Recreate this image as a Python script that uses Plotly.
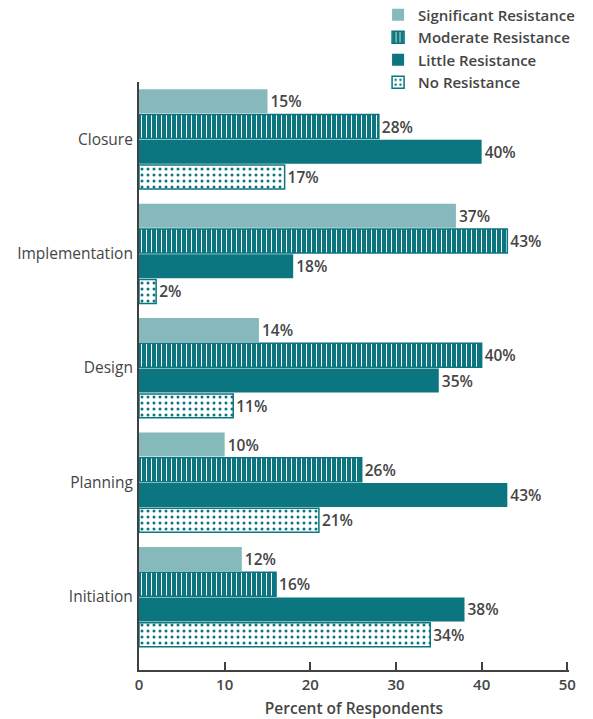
import plotly.graph_objects as go

# Project phases, bottom to top on the y axis
phases = ["Initiation", "Planning", "Design", "Implementation", "Closure"]

# Percent of respondents per resistance level, in the same phase order
significant = [12, 10, 14, 37, 15]
moderate = [16, 26, 40, 43, 28]
little = [38, 43, 35, 18, 40]
no_resistance = [34, 21, 11, 2, 17]

x_ticks = [0, 10, 20, 30, 40, 50]

LIGHT = "#85b9bc"
DARK = "#0b7580"
TEXT = "#454545"
FONT = "Open Sans"

label_font = dict(family=FONT, size=15.5, color=TEXT, weight=600)

fig = go.Figure()

# Traces are added bottom-up so that each group reads
# Significant, Moderate, Little, No from top to bottom.
fig.add_trace(go.Bar(
    name="No Resistance", y=phases, x=no_resistance, orientation="h",
    marker=dict(
        color="white",
        line=dict(color=DARK, width=1.5),
        pattern=dict(shape=".", fgcolor=DARK, bgcolor="white",
                     fillmode="replace", size=6, solidity=0.2),
    ),
))
fig.add_trace(go.Bar(
    name="Little Resistance", y=phases, x=little, orientation="h",
    marker=dict(color=DARK, line=dict(width=0)),
))
fig.add_trace(go.Bar(
    name="Moderate Resistance", y=phases, x=moderate, orientation="h",
    marker=dict(
        color=DARK,
        line=dict(color=DARK, width=1.5),
        pattern=dict(shape="|", fgcolor="white", bgcolor=DARK,
                     fillmode="replace", size=5, solidity=0.2),
    ),
))
fig.add_trace(go.Bar(
    name="Significant Resistance", y=phases, x=significant, orientation="h",
    marker=dict(color=LIGHT, line=dict(width=0)),
))

fig.update_traces(
    texttemplate="%{x}%",
    textposition="outside",
    textfont=label_font,
    cliponaxis=False,
)

fig.update_layout(
    width=593,
    height=719,
    margin=dict(l=139, r=24, t=82, b=49, autoexpand=False),
    paper_bgcolor="white",
    plot_bgcolor="white",
    barmode="group",
    bargap=0.117,
    bargroupgap=0.05,
    font=dict(family=FONT, size=15, color=TEXT),
    legend=dict(
        x=0.556, y=1.142, xanchor="left", yanchor="top",
        traceorder="reversed",
        font=dict(family=FONT, size=15, color=TEXT, weight=600),
        bgcolor="rgba(0,0,0,0)",
        tracegroupgap=0,
    ),
    xaxis=dict(
        range=[0, 50.2],
        tickvals=x_ticks,
        ticks="inside",
        ticklen=8,
        tickwidth=1.5,
        tickcolor="#404040",
        showline=True,
        linecolor="#404040",
        linewidth=2,
        showgrid=False,
        zeroline=False,
        automargin=False,
        tickfont=dict(family=FONT, size=15, color=TEXT, weight=600),
        title=dict(text="Percent of Respondents",
                   font=dict(family=FONT, size=15.5, color=TEXT, weight=600),
                   standoff=12),
    ),
    yaxis=dict(
        categoryorder="array",
        categoryarray=phases,
        range=[-0.64, 4.5],
        showline=True,
        linecolor="#404040",
        linewidth=2,
        ticks="",
        showgrid=False,
        automargin=False,
        tickfont=dict(family=FONT, size=15.5, color=TEXT),
        ticklabelstandoff=1,
    ),
)

fig.write_html("out.html")
